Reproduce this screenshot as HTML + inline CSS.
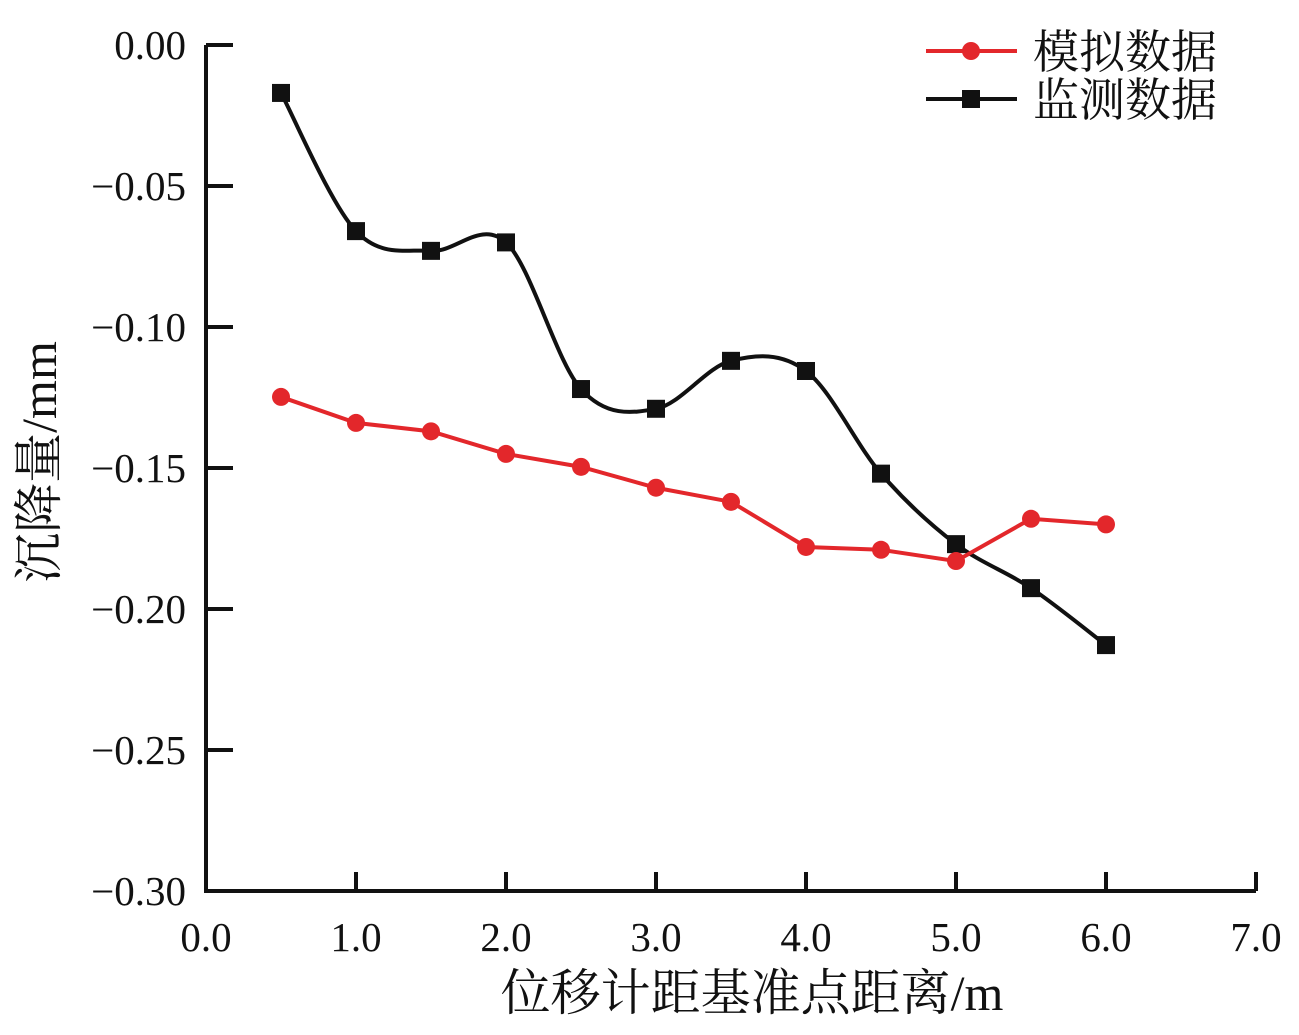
<!DOCTYPE html>
<html><head><meta charset="utf-8"><style>
html,body{margin:0;padding:0;background:#fff;}
svg{display:block;font-family:"Liberation Serif","Noto Serif CJK SC",serif;}
</style></head><body>
<svg id="chart" width="1299" height="1035" viewBox="0 0 1299 1035" xmlns="http://www.w3.org/2000/svg">
<g id="axes"></g>
<g id="series"></g>
<g id="legend">
  <line x1="926" y1="51" x2="1017" y2="51" stroke="#e3272b" stroke-width="4"/>
  <circle cx="971" cy="51" r="9" fill="#e3272b"/>
  <text x="1033" y="68" font-size="46" fill="#111">模拟数据</text>
  <line x1="926" y1="99" x2="1017" y2="99" stroke="#111" stroke-width="4"/>
  <rect x="962" y="90" width="18" height="18" fill="#111"/>
  <text x="1033" y="116" font-size="46" fill="#111">监测数据</text>
</g>
<text x="752" y="1010" font-size="50" text-anchor="middle" fill="#111">位移计距基准点距离/m</text>
<text transform="translate(56,462) rotate(-90)" font-size="50" text-anchor="middle" fill="#111">沉降量/mm</text>
</svg>
<script>
const xValues = [0.5,1.0,1.5,2.0,2.5,3.0,3.5,4.0,4.5,5.0,5.5,6.0];
const simValues = [-0.1248,-0.1340,-0.1370,-0.1450,-0.1496,-0.1570,-0.1620,-0.1780,-0.1790,-0.1830,-0.1680,-0.1700];
const monValues = [-0.0170,-0.0660,-0.0730,-0.0700,-0.1220,-0.1290,-0.1120,-0.1156,-0.1520,-0.1770,-0.1926,-0.2128];
const xTicks = [0,1,2,3,4,5,6,7];
const xTickLabels = ["0.0","1.0","2.0","3.0","4.0","5.0","6.0","7.0"];
const yTicks = [0,-0.05,-0.10,-0.15,-0.20,-0.25,-0.30];
const yTickLabels = ["0.00","\u22120.05","\u22120.10","\u22120.15","\u22120.20","\u22120.25","\u22120.30"];

const NS="http://www.w3.org/2000/svg";
const X0=206,X1=1256,Y0=45,Y1=891;
const sx=v=>X0+(v-0)/(7-0)*(X1-X0);
const sy=v=>Y0+(0-v)/(0.30)*(Y1-Y0);
function mk(tag,attrs,parent){const e=document.createElementNS(NS,tag);for(const k in attrs)e.setAttribute(k,attrs[k]);parent.appendChild(e);return e;}
const axes=document.getElementById('axes');
let e;
e=mk('path',{d:`M${X0},${Y0} L${X0},${Y1} L${X1},${Y1}`,fill:'none',stroke:'#111','stroke-width':4},axes);


yTicks.forEach((v,i)=>{
  const y=sy(v);
  let t=mk('line',{x1:X0,y1:y,x2:X0+27,y2:y,stroke:'#111','stroke-width':4},axes);
  
  
  let l=mk('text',{x:186,y:y+14,'font-size':41,'text-anchor':'end',fill:'#111'},axes);
  l.textContent=yTickLabels[i];
  
  
});
xTicks.forEach((v,i)=>{
  const x=sx(v);
  if(i>0){
    let t=mk('line',{x1:x,y1:Y1,x2:x,y2:Y1-19,stroke:'#111','stroke-width':4},axes);
    
    
  }
  let l=mk('text',{x:x,y:951,'font-size':41,'text-anchor':'middle',fill:'#111'},axes);
  l.textContent=xTickLabels[i];
  
  
});
const ser=document.getElementById('series');
const mp=xValues.map((x,i)=>[sx(x),sy(monValues[i])]);
let d=`M${mp[0][0]},${mp[0][1]}`;
for(let i=0;i<mp.length-1;i++){
  const p0=mp[Math.max(0,i-1)],p1=mp[i],p2=mp[i+1],p3=mp[Math.min(mp.length-1,i+2)];
  const c1=[p1[0]+(p2[0]-p0[0])/6,p1[1]+(p2[1]-p0[1])/6];
  const c2=[p2[0]-(p3[0]-p1[0])/6,p2[1]-(p3[1]-p1[1])/6];
  d+=` C${c1[0]},${c1[1]} ${c2[0]},${c2[1]} ${p2[0]},${p2[1]}`;
}
e=mk('path',{d:d,fill:'none',stroke:'#111','stroke-width':4},ser);


const sp=xValues.map((x,i)=>`${sx(x)},${sy(simValues[i])}`).join(' ');
e=mk('polyline',{points:sp,fill:'none',stroke:'#e3272b','stroke-width':4},ser);


xValues.forEach((x,i)=>{
  let r=mk('rect',{x:sx(x)-9,y:sy(monValues[i])-9,width:18,height:18,fill:'#111'},ser);
  
  
});
xValues.forEach((x,i)=>{
  let c=mk('circle',{cx:sx(x),cy:sy(simValues[i]),r:9,fill:'#e3272b'},ser);
  
  
});
</script>
</body></html>
